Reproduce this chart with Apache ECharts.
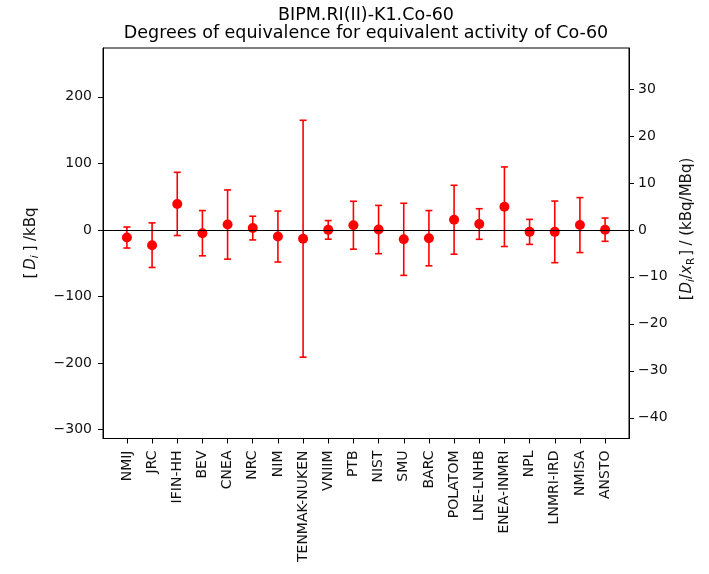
<!DOCTYPE html>
<html><head><meta charset="utf-8">
<script src="https://cdn.jsdelivr.net/npm/echarts@6/dist/echarts.min.js"></script>
<style>html,body{margin:0;padding:0;background:#fff}#c{width:709px;height:574px}</style>
</head><body><div id="c"></div>
<script>
// Participating laboratories (x categories)
const labs = ['NMIJ','JRC','IFIN-HH','BEV','CNEA','NRC','NIM','TENMAK-NUKEN','VNIIM','PTB',
  'NIST','SMU','BARC','POLATOM','LNE-LNHB','ENEA-INMRI','NPL','LNMRI-IRD','NMISA','ANSTO'];
// Degree of equivalence D_i / kBq
const di = [-11.5,-23,39,-5,8,2.7,-10,-13.3,0,7,
  0.5,-14.2,-12.5,15.2,8.8,34.8,-3,-3,7.2,0.3];
// Expanded uncertainty U_i / kBq
const ui = [15.8,33.5,47.5,34,52,17.8,38.3,178,14,36,
  36.3,54.2,41.5,51.8,23,59.8,18.8,46.3,41.3,17.5];
// Tick labels
const leftTicks = [-300,-200,-100,0,100,200];
const rightTicks = [-40,-30,-20,-10,0,10,20,30];
const xTicks = labs.map((l,i)=>i);
// Axis ranges
const leftRange = [-313.5, 273.3];
const ratioKBqPerUnit = 7.06; // right axis = left / ratio

const fam = "'DejaVu Sans', sans-serif";
const red = '#ff0000';
const txt = '#111';
const fmtMinus = v => (v < 0 ? '\u2212' + (-v) : String(v));

const chart = echarts.init(document.getElementById('c'), null, {renderer:'canvas'});
const richName = {
  b:{fontSize:15, fontFamily:fam, fill:txt, color:txt, lineHeight:20, verticalAlign:'middle'},
  bp:{fontSize:15, fontFamily:fam, fill:txt, color:txt, lineHeight:20, verticalAlign:'middle', padding:[0,1,0,2]},
  i:{fontSize:15, fontFamily:fam, fontStyle:'italic', fill:txt, color:txt, lineHeight:20, verticalAlign:'middle'},
  ip:{fontSize:15, fontFamily:fam, fontStyle:'italic', fill:txt, color:txt, lineHeight:20, verticalAlign:'middle', padding:[0,0,0,2]},
  s:{fontSize:10.5, fontFamily:fam, fontStyle:'italic', fill:txt, color:txt, lineHeight:10, verticalAlign:'bottom'},
  sp:{fontSize:10.5, fontFamily:fam, fontStyle:'italic', fill:txt, color:txt, lineHeight:10, verticalAlign:'bottom', padding:[0,2,0,0]},
  su:{fontSize:10.5, fontFamily:fam, fill:txt, color:txt, lineHeight:10, verticalAlign:'bottom'}
};
chart.setOption({
  animation:false,
  backgroundColor:'#fff',
  graphic:[
    {type:'text', x:366, y:15, style:{text:'BIPM.RI(II)-K1.Co-60', font:"17.5px 'DejaVu Sans'", fill:'#000', textAlign:'center', textVerticalAlign:'middle'}},
    {type:'text', x:366, y:33, style:{text:'Degrees of equivalence for equivalent activity of Co-60', font:"17.5px 'DejaVu Sans'", fill:'#000', textAlign:'center', textVerticalAlign:'middle'}},
    {type:'text', x:31, y:244, rotation:Math.PI/2,
      style:{text:'{bp|[}{ip|D}{sp|i}{bp|]} {b|/kBq}', rich:richName, textAlign:'center', textVerticalAlign:'middle'}},
    {type:'text', x:687, y:230, rotation:Math.PI/2,
      style:{text:'{bp|[}{i|D}{s|i}{b|/}{i|x}{su|R}{bp|]} {b|/ (kBq/MBq)}', rich:richName, textAlign:'center', textVerticalAlign:'middle'}}
  ],
  grid:{left:103, right:80, top:48, bottom:135.5, show:true, borderColor:'#000', borderWidth:1, backgroundColor:'transparent'},
  xAxis:{
    type:'value', min:-0.95, max:19.95,
    axisLine:{show:true, onZero:false, lineStyle:{color:'#000', width:1}},
    axisTick:{show:true, customValues:xTicks, length:5, lineStyle:{color:'#000'}},
    axisLabel:{customValues:xTicks, formatter:v=>labs[Math.round(v)], rotate:90, fontSize:14, fontFamily:fam, color:txt, margin:12},
    splitLine:{show:false}
  },
  yAxis:[
    {
      type:'value', position:'left', min:leftRange[0], max:leftRange[1],
      axisLine:{show:true, onZero:false, lineStyle:{color:'#000', width:1}},
      axisTick:{show:true, customValues:leftTicks, length:5, lineStyle:{color:'#000'}},
      axisLabel:{customValues:leftTicks, formatter:fmtMinus, fontSize:14, fontFamily:fam, color:txt, margin:11},
      splitLine:{show:false}
    },
    {
      type:'value', position:'right', min:leftRange[0]/ratioKBqPerUnit, max:leftRange[1]/ratioKBqPerUnit,
      axisLine:{show:true, onZero:false, lineStyle:{color:'#000', width:1}},
      axisTick:{show:true, customValues:rightTicks, length:5, lineStyle:{color:'#000'}},
      axisLabel:{customValues:rightTicks, formatter:fmtMinus, fontSize:14, fontFamily:fam, color:txt, margin:9},
      splitLine:{show:false}
    }
  ],
  series:[
    {
      type:'custom', yAxisIndex:0, z:2,
      data: labs.map((l,i)=>[i, di[i], ui[i]]),
      renderItem:function(params, api){
        const x = api.value(0), v = api.value(1), u = api.value(2);
        const t = api.coord([x, v+u]), b = api.coord([x, v-u]);
        const hw = 3.5;
        const st = {stroke:red, lineWidth:1.6};
        return {type:'group', children:[
          {type:'line', shape:{x1:t[0], y1:t[1], x2:b[0], y2:b[1]}, style:st},
          {type:'line', shape:{x1:t[0]-hw, y1:t[1], x2:t[0]+hw, y2:t[1]}, style:st},
          {type:'line', shape:{x1:b[0]-hw, y1:b[1], x2:b[0]+hw, y2:b[1]}, style:st}
        ]};
      }
    },
    {
      type:'scatter', yAxisIndex:0, z:3,
      symbol:'circle', symbolSize:10,
      itemStyle:{color:red, opacity:1},
      data: labs.map((l,i)=>[i, di[i]]),
      markLine:{
        silent:true, symbol:['none','none'], label:{show:false},
        lineStyle:{color:'#000', width:1.2, type:'solid'},
        data:[{yAxis:0}]
      }
    }
  ]
});
</script>
</body></html>
